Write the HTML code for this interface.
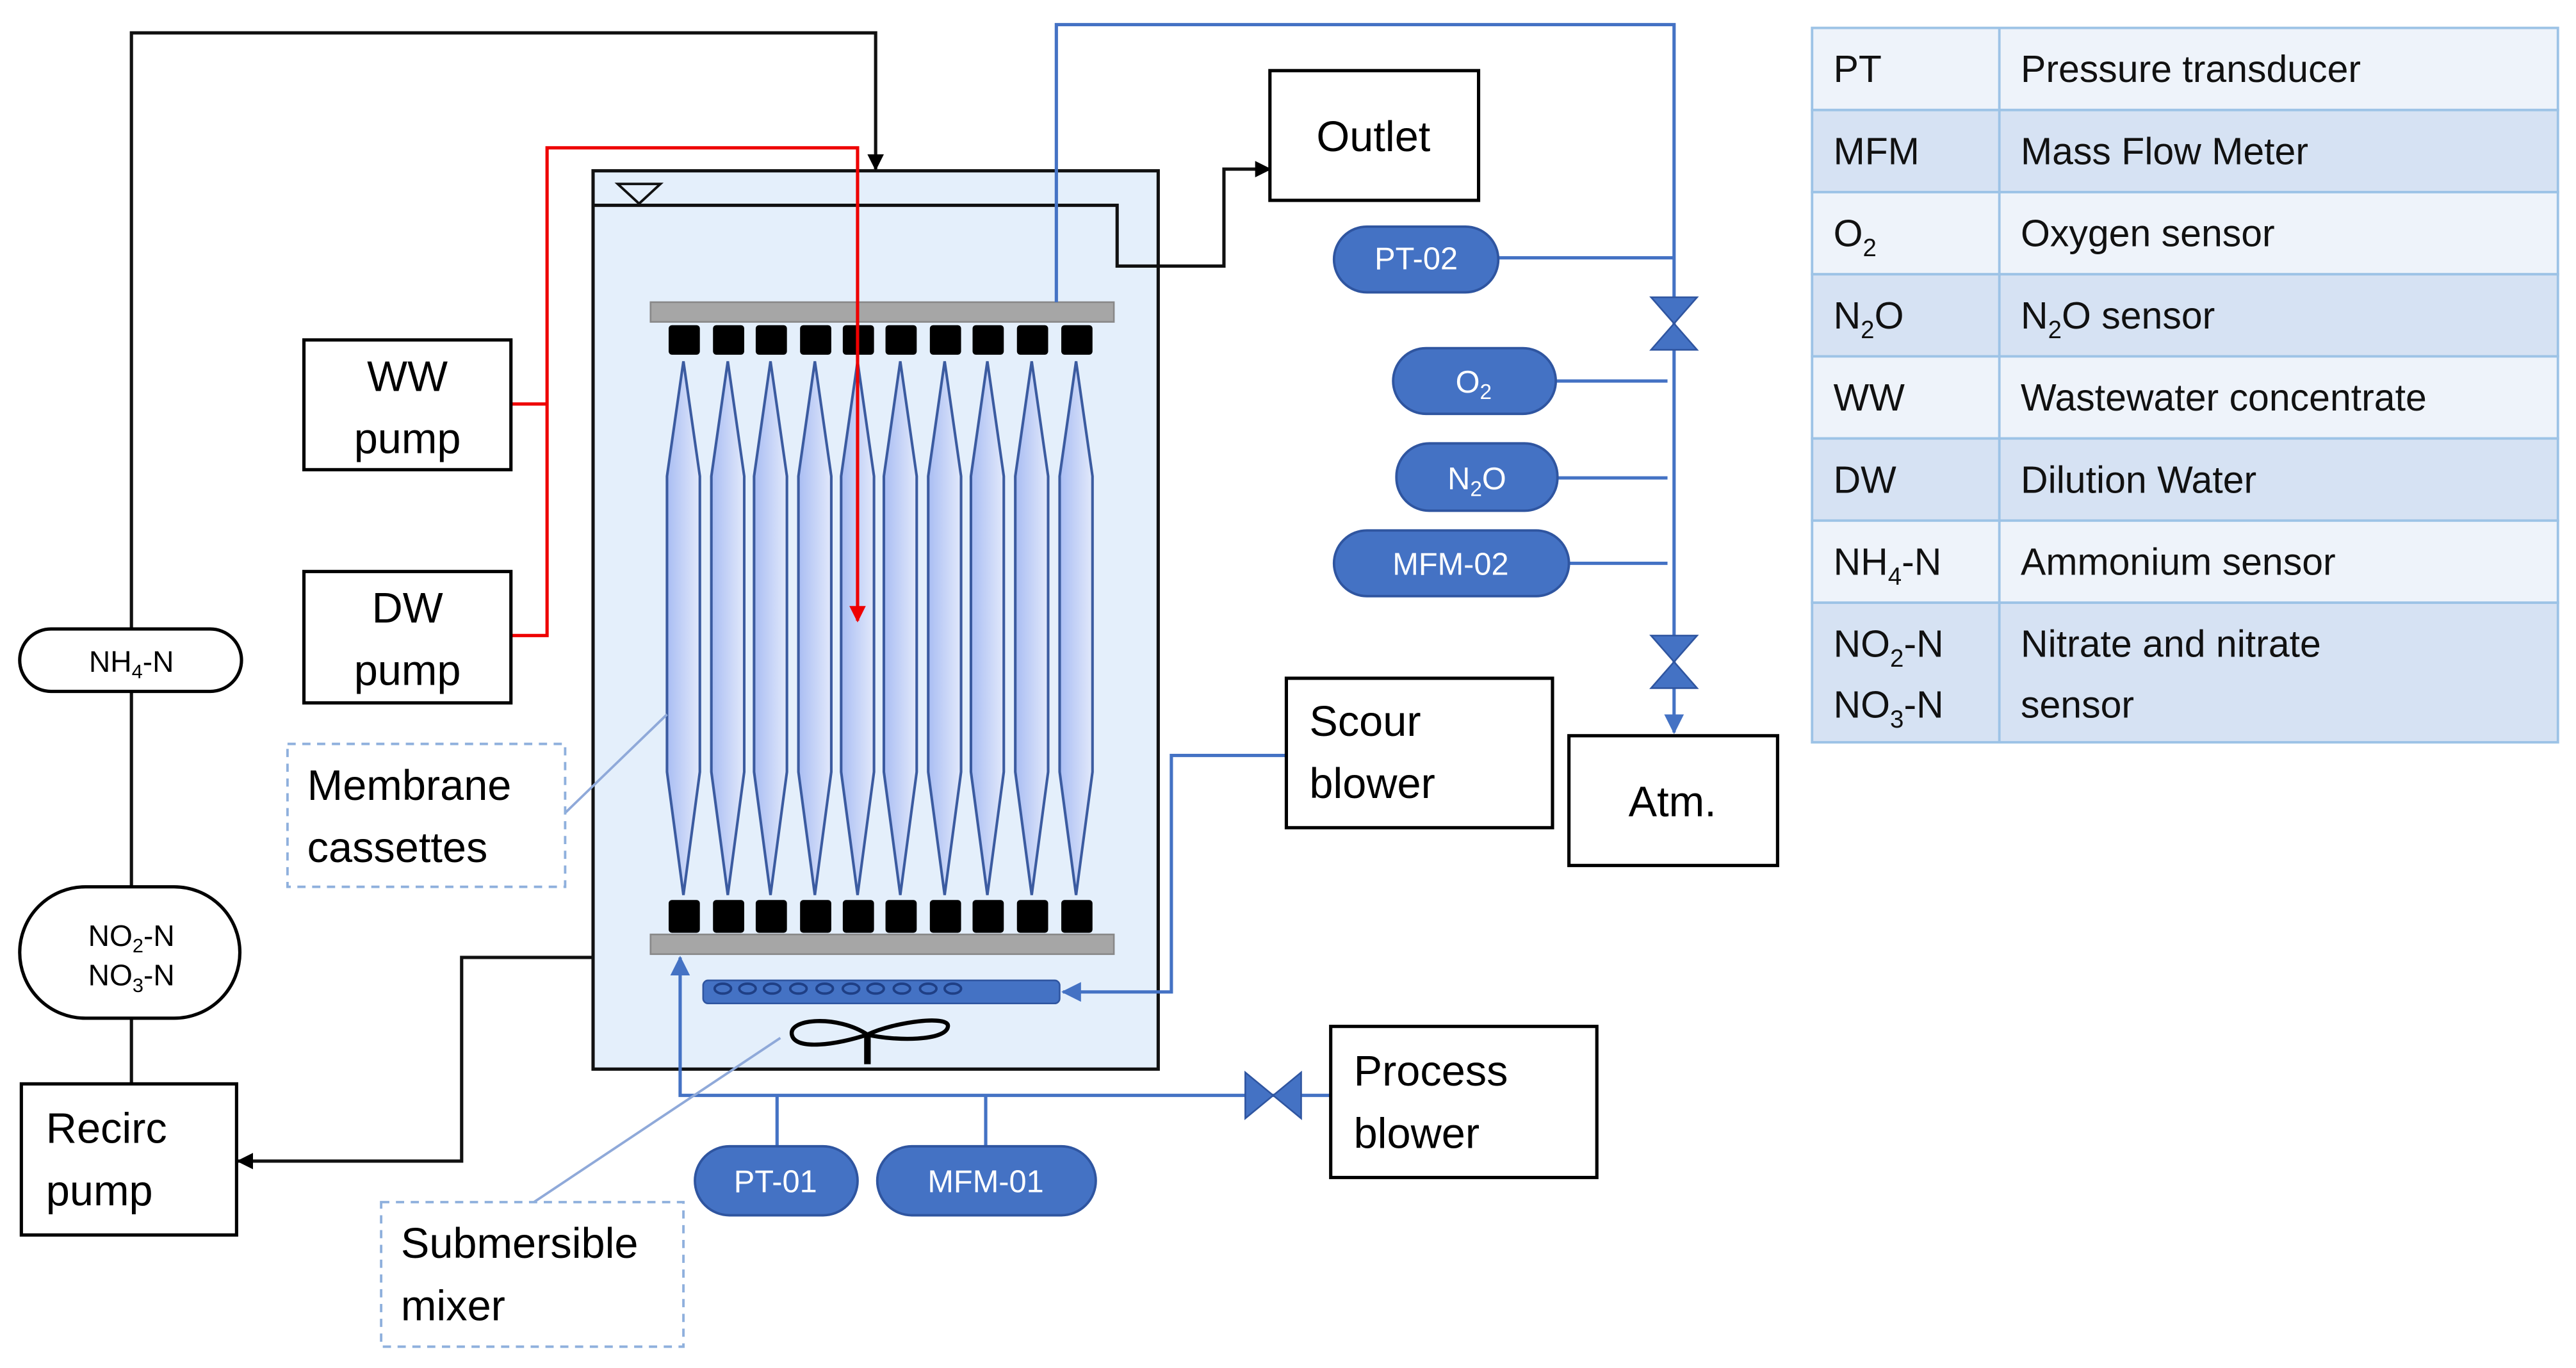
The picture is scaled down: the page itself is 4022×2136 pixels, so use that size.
<!DOCTYPE html>
<html><head><meta charset="utf-8"><style>
html,body{margin:0;padding:0;background:#fff;}
svg{display:block;}
text{font-family:"Liberation Sans",sans-serif;}
</style></head><body>
<svg width="4022" height="2136" viewBox="0 0 1568 833" preserveAspectRatio="none" xmlns="http://www.w3.org/2000/svg">
<defs>
<marker id="ab" markerWidth="10" markerHeight="10" refX="9" refY="5" orient="auto" markerUnits="userSpaceOnUse"><path d="M0,0 L10,5 L0,10 z" fill="#000"/></marker>
<marker id="ar" markerWidth="10" markerHeight="10" refX="9" refY="5" orient="auto" markerUnits="userSpaceOnUse"><path d="M0,0 L10,5 L0,10 z" fill="#e00"/></marker>
<marker id="au" markerWidth="12" markerHeight="12" refX="11" refY="6" orient="auto" markerUnits="userSpaceOnUse"><path d="M0,0 L12,6 L0,12 z" fill="#4472c4"/></marker>
<linearGradient id="mg" x1="0" x2="1" y1="0" y2="0"><stop offset="0" stop-color="#a9bdf3"/><stop offset="1" stop-color="#e2e9fb"/></linearGradient>
</defs>
<rect width="1568" height="833" fill="#fff"/>

<!-- Tank -->
<rect x="361" y="104" width="344" height="547" fill="#e4effb" stroke="#111" stroke-width="2"/>
<polyline points="361,125 680,125 680,162 745,162 745,103 773,103" fill="none" stroke="#111" stroke-width="2" marker-end="url(#ab)"/>
<polygon points="376,112 402,112 389,124" fill="none" stroke="#111" stroke-width="1.5"/>

<!-- grey bars -->
<rect x="396" y="184" width="282" height="12" fill="#a6a6a6" stroke="#888" stroke-width="1"/>
<rect x="396" y="569" width="282" height="12" fill="#a6a6a6" stroke="#888" stroke-width="1"/>

<!-- membranes -->
<g stroke="#3b5ba0" stroke-width="1.6" fill="url(#mg)">
<polygon points="416,220 426,290 426,470 416,545 406,470 406,290"/>
<polygon points="443,220 453,290 453,470 443,545 433,470 433,290"/>
<polygon points="469,220 479,290 479,470 469,545 459,470 459,290"/>
<polygon points="496,220 506,290 506,470 496,545 486,470 486,290"/>
<polygon points="522,220 532,290 532,470 522,545 512,470 512,290"/>
<polygon points="548,220 558,290 558,470 548,545 538,470 538,290"/>
<polygon points="575,220 585,290 585,470 575,545 565,470 565,290"/>
<polygon points="601,220 611,290 611,470 601,545 591,470 591,290"/>
<polygon points="628,220 638,290 638,470 628,545 618,470 618,290"/>
<polygon points="655,220 665,290 665,470 655,545 645,470 645,290"/>
</g>
<g fill="#000">
<rect x="407" y="198" width="19" height="18" rx="2"/><rect x="434" y="198" width="19" height="18" rx="2"/><rect x="460" y="198" width="19" height="18" rx="2"/><rect x="487" y="198" width="19" height="18" rx="2"/><rect x="513" y="198" width="19" height="18" rx="2"/><rect x="539" y="198" width="19" height="18" rx="2"/><rect x="566" y="198" width="19" height="18" rx="2"/><rect x="592" y="198" width="19" height="18" rx="2"/><rect x="619" y="198" width="19" height="18" rx="2"/><rect x="646" y="198" width="19" height="18" rx="2"/>
<rect x="407" y="548" width="19" height="20" rx="2"/><rect x="434" y="548" width="19" height="20" rx="2"/><rect x="460" y="548" width="19" height="20" rx="2"/><rect x="487" y="548" width="19" height="20" rx="2"/><rect x="513" y="548" width="19" height="20" rx="2"/><rect x="539" y="548" width="19" height="20" rx="2"/><rect x="566" y="548" width="19" height="20" rx="2"/><rect x="592" y="548" width="19" height="20" rx="2"/><rect x="619" y="548" width="19" height="20" rx="2"/><rect x="646" y="548" width="19" height="20" rx="2"/>
</g>

<!-- diffuser -->
<rect x="428" y="597" width="217" height="14" rx="3" fill="#4472c4" stroke="#2f55a0"/>
<g fill="none" stroke="#1f3f85" stroke-width="1.5">
<ellipse cx="440" cy="602" rx="5" ry="3"/><ellipse cx="455" cy="602" rx="5" ry="3"/><ellipse cx="470" cy="602" rx="5" ry="3"/><ellipse cx="486" cy="602" rx="5" ry="3"/><ellipse cx="502" cy="602" rx="5" ry="3"/><ellipse cx="518" cy="602" rx="5" ry="3"/><ellipse cx="533" cy="602" rx="5" ry="3"/><ellipse cx="549" cy="602" rx="5" ry="3"/><ellipse cx="565" cy="602" rx="5" ry="3"/><ellipse cx="580" cy="602" rx="5" ry="3"/>
</g>
<!-- mixer -->
<path d="M528,630 C510,618 480,620 482,630 C484,640 510,636 528,630 C545,622 578,618 577,625 C576,634 545,634 528,630 Z" fill="none" stroke="#000" stroke-width="2.5"/>
<line x1="528" y1="630" x2="528" y2="648" stroke="#000" stroke-width="4"/>

<!-- black recirc lines -->
<polyline points="80,385 80,20 533,20 533,103" fill="none" stroke="#111" stroke-width="2" marker-end="url(#ab)"/>
<line x1="80" y1="421" x2="80" y2="540" stroke="#111" stroke-width="2"/>
<line x1="80" y1="620" x2="80" y2="660" stroke="#111" stroke-width="2"/>
<polyline points="361,583 281,583 281,707 145,707" fill="none" stroke="#111" stroke-width="2" marker-end="url(#ab)"/>

<!-- red feed -->
<polyline points="311,246 333,246" fill="none" stroke="#e00" stroke-width="2"/>
<polyline points="311,387 333,387 333,90 522,90 522,378" fill="none" stroke="#e00" stroke-width="2" marker-end="url(#ar)"/>

<!-- blue lines -->
<g stroke="#4472c4" stroke-width="2" fill="none">
<polyline points="643,184 643,15 1019,15 1019,446" marker-end="url(#au)"/>
<line x1="912" y1="157" x2="1019" y2="157"/>
<line x1="947" y1="232" x2="1015" y2="232"/>
<line x1="948" y1="291" x2="1015" y2="291"/>
<line x1="955" y1="343" x2="1015" y2="343"/>
<polyline points="783,460 713,460 713,604 647,604" marker-end="url(#au)"/>
<polyline points="810,667 414,667 414,583" marker-end="url(#au)"/>
<line x1="473" y1="667" x2="473" y2="698"/>
<line x1="600" y1="667" x2="600" y2="698"/>
</g>
<g stroke="#8fa9d9" stroke-width="1.5">
<line x1="344" y1="495" x2="406" y2="435"/>
<line x1="325" y1="732" x2="475" y2="632"/>
</g>
<!-- valves -->
<g fill="#4472c4" stroke="#2f55a0">
<polygon points="1005,181 1033,181 1019,197"/><polygon points="1005,213 1033,213 1019,197"/>
<polygon points="1005,387 1033,387 1019,403"/><polygon points="1005,419 1033,419 1019,403"/>
<polygon points="758,653 758,681 775,667"/><polygon points="792,653 792,681 775,667"/>
</g>

<!-- boxes -->
<g fill="#fff" stroke="#000" stroke-width="2">
<rect x="185" y="207" width="126" height="79"/>
<rect x="185" y="348" width="126" height="80"/>
<rect x="13" y="660" width="131" height="92"/>
<rect x="773" y="43" width="127" height="79"/>
<rect x="783" y="413" width="162" height="91"/>
<rect x="955" y="448" width="127" height="79"/>
<rect x="810" y="625" width="162" height="92"/>
<rect x="12" y="383" width="135" height="38" rx="19"/>
<rect x="12" y="540" width="134" height="80" rx="40"/>
</g>
<g fill="#fff" stroke="#8fb0dd" stroke-width="1.5" stroke-dasharray="5,4">
<rect x="175" y="453" width="169" height="87"/>
<rect x="232" y="732" width="184" height="88"/>
</g>
<g font-size="26" fill="#000">
<text x="248" y="238" text-anchor="middle">WW</text><text x="248" y="276" text-anchor="middle">pump</text>
<text x="248" y="379" text-anchor="middle">DW</text><text x="248" y="417" text-anchor="middle">pump</text>
<text x="28" y="696">Recirc</text><text x="28" y="734">pump</text>
<text x="836" y="92" text-anchor="middle">Outlet</text>
<text x="797" y="448">Scour</text><text x="797" y="486">blower</text>
<text x="1018" y="497" text-anchor="middle">Atm.</text>
<text x="824" y="661">Process</text><text x="824" y="699">blower</text>
<text x="187" y="487">Membrane</text><text x="187" y="525">cassettes</text>
<text x="244" y="766">Submersible</text><text x="244" y="804">mixer</text>
</g>
<g font-size="18" fill="#000" text-anchor="middle">
<text x="80" y="409">NH<tspan font-size="12" dy="4">4</tspan><tspan dy="-4">-N</tspan></text>
<text x="80" y="576">NO<tspan font-size="12" dy="4">2</tspan><tspan dy="-4">-N</tspan></text>
<text x="80" y="600">NO<tspan font-size="12" dy="4">3</tspan><tspan dy="-4">-N</tspan></text>
</g>

<!-- pills -->
<g fill="#4472c4" stroke="#2f55a0" stroke-width="1.5">
<rect x="812" y="138" width="100" height="40" rx="20"/>
<rect x="848" y="212" width="99" height="40" rx="20"/>
<rect x="850" y="270" width="98" height="41" rx="20"/>
<rect x="812" y="323" width="143" height="40" rx="20"/>
<rect x="423" y="698" width="99" height="42" rx="21"/>
<rect x="534" y="698" width="133" height="42" rx="21"/>
</g>
<g font-size="19" fill="#fff" text-anchor="middle">
<text x="862" y="164">PT-02</text>
<text x="897" y="239">O<tspan font-size="13" dy="4">2</tspan></text>
<text x="899" y="298">N<tspan font-size="13" dy="4">2</tspan><tspan dy="-4">O</tspan></text>
<text x="883" y="350">MFM-02</text>
<text x="472" y="726">PT-01</text>
<text x="600" y="726">MFM-01</text>
</g>

<!-- table -->
<g stroke="#9dc3e6" stroke-width="1.5">
<rect x="1103" y="17" width="454" height="50" fill="#eef3fa"/>
<rect x="1103" y="67" width="454" height="50" fill="#d6e2f3"/>
<rect x="1103" y="117" width="454" height="50" fill="#eef3fa"/>
<rect x="1103" y="167" width="454" height="50" fill="#d6e2f3"/>
<rect x="1103" y="217" width="454" height="50" fill="#eef3fa"/>
<rect x="1103" y="267" width="454" height="50" fill="#d6e2f3"/>
<rect x="1103" y="317" width="454" height="50" fill="#eef3fa"/>
<rect x="1103" y="367" width="454" height="85" fill="#d6e2f3"/>
<line x1="1217" y1="17" x2="1217" y2="452"/>
</g>
<g font-size="23" fill="#111">
<text x="1116" y="50">PT</text><text x="1230" y="50">Pressure transducer</text>
<text x="1116" y="100">MFM</text><text x="1230" y="100">Mass Flow Meter</text>
<text x="1116" y="150">O<tspan font-size="15" dy="6">2</tspan></text><text x="1230" y="150">Oxygen sensor</text>
<text x="1116" y="200">N<tspan font-size="15" dy="6">2</tspan><tspan dy="-6">O</tspan></text><text x="1230" y="200">N<tspan font-size="15" dy="6">2</tspan><tspan dy="-6">O sensor</tspan></text>
<text x="1116" y="250">WW</text><text x="1230" y="250">Wastewater concentrate</text>
<text x="1116" y="300">DW</text><text x="1230" y="300">Dilution Water</text>
<text x="1116" y="350">NH<tspan font-size="15" dy="6">4</tspan><tspan dy="-6">-N</tspan></text><text x="1230" y="350">Ammonium sensor</text>
<text x="1116" y="400">NO<tspan font-size="15" dy="6">2</tspan><tspan dy="-6">-N</tspan></text><text x="1230" y="400">Nitrate and nitrate</text>
<text x="1116" y="437">NO<tspan font-size="15" dy="6">3</tspan><tspan dy="-6">-N</tspan></text><text x="1230" y="437">sensor</text>
</g>
</svg>
</body></html>
